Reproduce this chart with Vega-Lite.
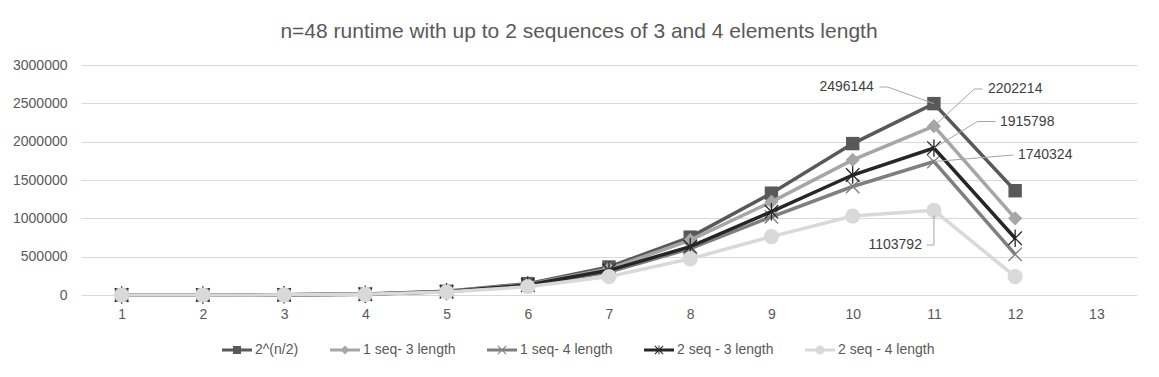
{
  "$schema": "https://vega.github.io/schema/vega-lite/v6.json",
  "width": 1056,
  "height": 230,
  "autosize": {"type": "none"},
  "padding": {"left": 81, "top": 65, "right": 22, "bottom": 82},
  "background": "white",
  "config": {"view": {"stroke": null}, "font": "Liberation Sans"},
  "title": {
    "text": "n=48 runtime with up to 2 sequences of 3 and 4 elements length",
    "fontSize": 21,
    "fontWeight": "normal",
    "font": "Liberation Sans",
    "color": "#595959",
    "anchor": "middle",
    "dx": -30,
    "offset": 16
  },
  "data": {
    "values": [
      {"series": "2^(n/2)", "n": 1, "value": 100},
      {"series": "2^(n/2)", "n": 2, "value": 500},
      {"series": "2^(n/2)", "n": 3, "value": 3000},
      {"series": "2^(n/2)", "n": 4, "value": 12000},
      {"series": "2^(n/2)", "n": 5, "value": 48000},
      {"series": "2^(n/2)", "n": 6, "value": 148000},
      {"series": "2^(n/2)", "n": 7, "value": 365000},
      {"series": "2^(n/2)", "n": 8, "value": 755000},
      {"series": "2^(n/2)", "n": 9, "value": 1328000},
      {"series": "2^(n/2)", "n": 10, "value": 1975000},
      {"series": "2^(n/2)", "n": 11, "value": 2496144},
      {"series": "2^(n/2)", "n": 12, "value": 1360000},
      {"series": "1 seq- 3 length", "n": 1, "value": 100},
      {"series": "1 seq- 3 length", "n": 2, "value": 450},
      {"series": "1 seq- 3 length", "n": 3, "value": 2800},
      {"series": "1 seq- 3 length", "n": 4, "value": 11000},
      {"series": "1 seq- 3 length", "n": 5, "value": 45000},
      {"series": "1 seq- 3 length", "n": 6, "value": 138000},
      {"series": "1 seq- 3 length", "n": 7, "value": 340000},
      {"series": "1 seq- 3 length", "n": 8, "value": 715000},
      {"series": "1 seq- 3 length", "n": 9, "value": 1215000},
      {"series": "1 seq- 3 length", "n": 10, "value": 1762000},
      {"series": "1 seq- 3 length", "n": 11, "value": 2202214},
      {"series": "1 seq- 3 length", "n": 12, "value": 1000000},
      {"series": "1 seq- 4 length", "n": 1, "value": 100},
      {"series": "1 seq- 4 length", "n": 2, "value": 400},
      {"series": "1 seq- 4 length", "n": 3, "value": 2500},
      {"series": "1 seq- 4 length", "n": 4, "value": 10000},
      {"series": "1 seq- 4 length", "n": 5, "value": 42000},
      {"series": "1 seq- 4 length", "n": 6, "value": 125000},
      {"series": "1 seq- 4 length", "n": 7, "value": 300000},
      {"series": "1 seq- 4 length", "n": 8, "value": 605000},
      {"series": "1 seq- 4 length", "n": 9, "value": 1020000},
      {"series": "1 seq- 4 length", "n": 10, "value": 1415000},
      {"series": "1 seq- 4 length", "n": 11, "value": 1740324},
      {"series": "1 seq- 4 length", "n": 12, "value": 530000},
      {"series": "2 seq - 3 length", "n": 1, "value": 100},
      {"series": "2 seq - 3 length", "n": 2, "value": 420},
      {"series": "2 seq - 3 length", "n": 3, "value": 2600},
      {"series": "2 seq - 3 length", "n": 4, "value": 10500},
      {"series": "2 seq - 3 length", "n": 5, "value": 44000},
      {"series": "2 seq - 3 length", "n": 6, "value": 130000},
      {"series": "2 seq - 3 length", "n": 7, "value": 322000},
      {"series": "2 seq - 3 length", "n": 8, "value": 630000},
      {"series": "2 seq - 3 length", "n": 9, "value": 1087000},
      {"series": "2 seq - 3 length", "n": 10, "value": 1565000},
      {"series": "2 seq - 3 length", "n": 11, "value": 1915798},
      {"series": "2 seq - 3 length", "n": 12, "value": 740000},
      {"series": "2 seq - 4 length", "n": 1, "value": 100},
      {"series": "2 seq - 4 length", "n": 2, "value": 350},
      {"series": "2 seq - 4 length", "n": 3, "value": 2200},
      {"series": "2 seq - 4 length", "n": 4, "value": 9000},
      {"series": "2 seq - 4 length", "n": 5, "value": 38000},
      {"series": "2 seq - 4 length", "n": 6, "value": 108000},
      {"series": "2 seq - 4 length", "n": 7, "value": 240000},
      {"series": "2 seq - 4 length", "n": 8, "value": 472000},
      {"series": "2 seq - 4 length", "n": 9, "value": 762000},
      {"series": "2 seq - 4 length", "n": 10, "value": 1030000},
      {"series": "2 seq - 4 length", "n": 11, "value": 1103792},
      {"series": "2 seq - 4 length", "n": 12, "value": 240000}
    ]
  },
  "encoding": {
    "x": {
      "field": "n",
      "type": "quantitative",
      "scale": {"domain": [0.5, 13.5], "nice": false, "zero": false},
      "axis": {
        "values": [1, 2, 3, 4, 5, 6, 7, 8, 9, 10, 11, 12, 13],
        "format": "d",
        "grid": false,
        "ticks": false,
        "domain": false,
        "labelFontSize": 14,
        "labelColor": "#595959",
        "labelPadding": 12,
        "title": null
      }
    },
    "y": {
      "field": "value",
      "type": "quantitative",
      "scale": {"domain": [0, 3000000], "nice": false},
      "axis": {
        "values": [0, 500000, 1000000, 1500000, 2000000, 2500000, 3000000],
        "format": "d",
        "grid": true,
        "gridColor": "#D9D9D9",
        "gridWidth": 1,
        "domain": false,
        "ticks": false,
        "labelFontSize": 14,
        "labelColor": "#595959",
        "labelPadding": 14,
        "title": null
      }
    }
  },
  "layer": [
    {
      "transform": [{"filter": "false"}],
      "mark": {"type": "point", "filled": true, "opacity": 1},
      "encoding": {
        "color": {
          "field": "series",
          "type": "nominal",
          "scale": {
            "domain": ["2^(n/2)", "1 seq- 3 length", "1 seq- 4 length", "2 seq - 3 length", "2 seq - 4 length"],
            "range": ["#595959", "#A6A6A6", "#7F7F7F", "#262626", "#D9D9D9"]
          },
          "legend": {
            "title": null,
            "orient": "none",
            "legendX": 141,
            "legendY": 270,
            "direction": "horizontal",
            "symbolSize": 900,
            "symbolStrokeWidth": 0,
            "labelFontSize": 14,
            "labelColor": "#595959",
            "labelOffset": 3,
            "columnPadding": 31,
            "padding": 0,
            "labelLimit": 300
          }
        },
        "shape": {
          "field": "series",
          "type": "nominal",
          "scale": {
            "domain": ["2^(n/2)", "1 seq- 3 length", "1 seq- 4 length", "2 seq - 3 length", "2 seq - 4 length"],
            "range": [
              "M-1,-0.1H1V0.1H-1Z M-0.27,-0.27H0.27V0.27H-0.27Z",
              "M-1,-0.1H1V0.1H-1Z M0,-0.3L0.3,0L0,0.3L-0.3,0Z",
              "M-1,-0.1H1V0.1H-1Z M-0.3,-0.25L-0.25,-0.3L0.3,0.25L0.25,0.3Z M0.25,-0.3L0.3,-0.25L-0.25,0.3L-0.3,0.25Z",
              "M-1,-0.1H1V0.1H-1Z M-0.3,-0.25L-0.25,-0.3L0.3,0.25L0.25,0.3Z M0.25,-0.3L0.3,-0.25L-0.25,0.3L-0.3,0.25Z M-0.03,-0.3H0.03V0.3H-0.03Z",
              "M-1,-0.1H1V0.1H-1Z M0.3,0A0.3,0.3 0 1,1 -0.3,0A0.3,0.3 0 1,1 0.3,0Z"
            ]
          },
          "legend": {
            "title": null,
            "orient": "none",
            "legendX": 141,
            "legendY": 270,
            "direction": "horizontal",
            "symbolSize": 900,
            "symbolStrokeWidth": 0,
            "labelFontSize": 14,
            "labelColor": "#595959",
            "labelOffset": 3,
            "columnPadding": 31,
            "padding": 0,
            "labelLimit": 300
          }
        }
      }
    },
    {
      "transform": [{"filter": "datum.series === '2^(n/2)'"}],
      "layer": [
        {"mark": {"type": "line", "color": "#595959", "strokeWidth": 3.5}},
        {"mark": {"type": "point", "shape": "square", "filled": true, "size": 180, "color": "#595959", "opacity": 1}}
      ]
    },
    {
      "transform": [{"filter": "datum.series === '1 seq- 3 length'"}],
      "layer": [
        {"mark": {"type": "line", "color": "#A6A6A6", "strokeWidth": 3.5}},
        {"mark": {"type": "point", "shape": "diamond", "filled": true, "size": 200, "color": "#A6A6A6", "opacity": 1}}
      ]
    },
    {
      "transform": [{"filter": "datum.series === '1 seq- 4 length'"}],
      "layer": [
        {"mark": {"type": "line", "color": "#7F7F7F", "strokeWidth": 3.5}},
        {"mark": {"type": "point", "shape": "M-1,-1L1,1M1,-1L-1,1", "filled": false, "size": 180, "color": "#7F7F7F", "strokeWidth": 1.3, "opacity": 1}}
      ]
    },
    {
      "transform": [{"filter": "datum.series === '2 seq - 3 length'"}],
      "layer": [
        {"mark": {"type": "line", "color": "#262626", "strokeWidth": 3.5}},
        {"mark": {"type": "point", "shape": "M-1,-1L1,1M1,-1L-1,1M0,-1.3L0,1.3", "filled": false, "size": 180, "color": "#262626", "strokeWidth": 1.3, "opacity": 1}}
      ]
    },
    {
      "transform": [{"filter": "datum.series === '2 seq - 4 length'"}],
      "layer": [
        {"mark": {"type": "line", "color": "#D9D9D9", "strokeWidth": 3.5}},
        {"mark": {"type": "point", "shape": "circle", "filled": true, "size": 230, "color": "#D9D9D9", "opacity": 1}}
      ]
    },
    {
      "transform": [{"filter": "datum.series === '2^(n/2)' && datum.n === 11"}],
      "layer": [
        {"mark": {"type": "rule", "color": "#A6A6A6", "strokeWidth": 1}, "encoding": {"x2": {"datum": 10.43}, "y2": {"datum": 2712900}}},
        {"mark": {"type": "rule", "color": "#A6A6A6", "strokeWidth": 1}, "encoding": {"x": {"datum": 10.33}, "y": {"datum": 2712900}, "x2": {"datum": 10.43}, "y2": {"datum": 2712900}}},
        {"mark": {"type": "text", "align": "right", "baseline": "middle", "dx": -60, "dy": -16.6, "fontSize": 14, "color": "#404040"}, "encoding": {"text": {"field": "value", "type": "quantitative", "format": "d"}}}
      ]
    },
    {
      "transform": [{"filter": "datum.series === '1 seq- 3 length' && datum.n === 11"}],
      "layer": [
        {"mark": {"type": "rule", "color": "#A6A6A6", "strokeWidth": 1}, "encoding": {"x2": {"datum": 11.498}, "y2": {"datum": 2686900}}},
        {"mark": {"type": "rule", "color": "#A6A6A6", "strokeWidth": 1}, "encoding": {"x": {"datum": 11.498}, "y": {"datum": 2686900}, "x2": {"datum": 11.597}, "y2": {"datum": 2686900}}},
        {"mark": {"type": "text", "align": "left", "baseline": "middle", "dx": 54, "dy": -37, "fontSize": 14, "color": "#404040"}, "encoding": {"text": {"field": "value", "type": "quantitative", "format": "d"}}}
      ]
    },
    {
      "transform": [{"filter": "datum.series === '2 seq - 3 length' && datum.n === 11"}],
      "layer": [
        {"mark": {"type": "rule", "color": "#A6A6A6", "strokeWidth": 1}, "encoding": {"x2": {"datum": 11.535}, "y2": {"datum": 2262960}}},
        {"mark": {"type": "rule", "color": "#A6A6A6", "strokeWidth": 1}, "encoding": {"x": {"datum": 11.535}, "y": {"datum": 2262960}, "x2": {"datum": 11.757}, "y2": {"datum": 2262960}}},
        {"mark": {"type": "text", "align": "left", "baseline": "middle", "dx": 66, "dy": -26.5, "fontSize": 14, "color": "#404040"}, "encoding": {"text": {"field": "value", "type": "quantitative", "format": "d"}}}
      ]
    },
    {
      "transform": [{"filter": "datum.series === '1 seq- 4 length' && datum.n === 11"}],
      "layer": [
        {"mark": {"type": "rule", "color": "#A6A6A6", "strokeWidth": 1}, "encoding": {"x2": {"datum": 11.978}, "y2": {"datum": 1826000}}},
        {"mark": {"type": "text", "align": "left", "baseline": "middle", "dx": 84, "dy": -6.6, "fontSize": 14, "color": "#404040"}, "encoding": {"text": {"field": "value", "type": "quantitative", "format": "d"}}}
      ]
    },
    {
      "transform": [{"filter": "datum.series === '2 seq - 4 length' && datum.n === 11"}],
      "layer": [
        {"mark": {"type": "rule", "color": "#A6A6A6", "strokeWidth": 1}, "encoding": {"y": {"datum": 1040000}, "y2": {"datum": 652150}}},
        {"mark": {"type": "rule", "color": "#A6A6A6", "strokeWidth": 1}, "encoding": {"y": {"datum": 652150}, "x2": {"datum": 10.91}, "y2": {"datum": 652150}}},
        {"mark": {"type": "text", "align": "right", "baseline": "middle", "dx": -12, "dy": 34.6, "fontSize": 14, "color": "#404040"}, "encoding": {"text": {"field": "value", "type": "quantitative", "format": "d"}}}
      ]
    }
  ]
}
